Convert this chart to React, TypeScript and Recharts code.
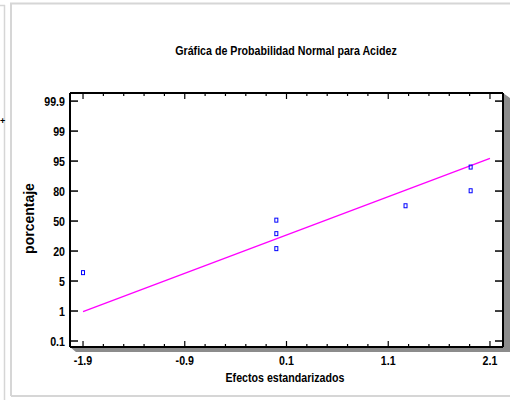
import { ScatterChart, Scatter, XAxis, YAxis } from 'recharts';

const xTicks = [
  -1.9, -1.7, -1.5, -1.3, -1.1, -0.9, -0.7, -0.5, -0.3, -0.1, 0.1, 0.3, 0.5,
  0.7, 0.9, 1.1, 1.3, 1.5, 1.7, 1.9, 2.1,
];
const xMajorLabels = ['-1.9', '-0.9', '0.1', '1.1', '2.1'];
const yTickLabels = ['0.1', '1', '5', '20', '50', '80', '95', '99', '99.9'];
const yTicks = yTickLabels.map((_, i) => i);

// standardized effects and their position on the probability scale (tick index units)
const effects = [-1.9, 0.0, 0.0, 0.0, 1.27, 1.91, 1.91];
const percentPositions = [2.28, 3.08, 3.58, 4.03, 4.51, 5.01, 5.8];

// fitted reference line
const fitX = [-1.9, 2.1];
const fitY = [0.98, 6.09];

const points = effects.map((x, i) => ({ x, y: percentPositions[i] }));
const fitLine = fitX.map((x, i) => ({ x, y: fitY[i] }));

const X_DOMAIN: [number, number] = [-2.028, 2.228];
const Y_DOMAIN: [number, number] = [-0.2, 8.27];

const SANS = '"Liberation Sans", Arial, sans-serif';

const isMajor = (v: number) =>
  xMajorLabels.some((l) => Math.abs(parseFloat(l) - v) < 1e-6);

// Arial Narrow look: squeeze the bold sans horizontally
const Narrow = ({ x, y, anchor = 'middle', children }: any) => (
  <text
    transform={`translate(${x} ${y}) scale(0.82 1)`}
    textAnchor={anchor}
    fontFamily={SANS}
    fontSize={13}
    fontWeight="bold"
    fill="#000"
  >
    {children}
  </text>
);

const BottomTick = (props: any) => {
  const { x, y, payload } = props;
  const major = isMajor(payload.value);
  return (
    <g>
      <line x1={x} y1={y} x2={x} y2={y - (major ? 6 : 3)} stroke="#000" strokeWidth={1.2} />
      {major && (
        <Narrow x={x} y={y + 18}>
          {payload.value.toFixed(1)}
        </Narrow>
      )}
    </g>
  );
};

const TopTick = (props: any) => {
  const { x, y, payload } = props;
  const major = isMajor(payload.value);
  return <line x1={x} y1={y} x2={x} y2={y + (major ? 6 : 3)} stroke="#000" strokeWidth={1.2} />;
};

const LeftTick = (props: any) => {
  const { x, y, payload } = props;
  return (
    <g>
      <line x1={x} y1={y} x2={x + 8} y2={y} stroke="#000" strokeWidth={1.5} />
      <Narrow x={x - 5} y={y + 4.6} anchor="end">
        {yTickLabels[payload.value]}
      </Narrow>
    </g>
  );
};

const RightTick = (props: any) => {
  const { x, y } = props;
  return <line x1={x} y1={y} x2={x - 8} y2={y} stroke="#000" strokeWidth={1.5} />;
};

const Square = (props: any) => {
  const { cx, cy } = props;
  return <rect x={cx - 1.5} y={cy - 2} width={3} height={4} fill="none" stroke="#0000ff" strokeWidth={1} />;
};

const frame = { stroke: '#000', strokeWidth: 2 };

export default function App() {
  return (
    <div style={{ position: 'fixed', left: 0, top: 0, width: 510, height: 400, background: '#fff', overflow: 'hidden' }}>
      <svg width={510} height={400} style={{ position: 'absolute', left: 0, top: 0 }}>
        <line x1={0} y1={5.5} x2={5} y2={5.5} stroke="#d6d6d6" strokeWidth={1.5} />
        <line x1={4.5} y1={5} x2={4.5} y2={400} stroke="#d6d6d6" strokeWidth={1.5} />
        <path d="M 11 396 L 11 3.5 L 512 3.5 M 11 396 L 512 396" fill="none" stroke="#d6d6d6" strokeWidth={2} />
        <text x={0} y={124} fontFamily={SANS} fontSize={9} fontWeight="bold" fill="#000">+</text>
        <polygon points="70,347 503,347 503,93 510,98 510,352 76,352" fill="#8c8c8c" />
        <Narrow x={286} y={55}>Gráfica de Probabilidad Normal para Acidez</Narrow>
        <Narrow x={285} y={381.5}>Efectos estandarizados</Narrow>
        <text
          x={34}
          y={218.5}
          transform="rotate(-90 34 218.5)"
          textAnchor="middle"
          fontFamily={SANS}
          fontSize={14}
          fontWeight="bold"
          fill="#000"
        >
          porcentaje
        </text>
      </svg>
      <div style={{ position: 'absolute', left: 0, top: 0 }}>
        <ScatterChart width={510} height={400} margin={{ top: 83, right: 0, bottom: 23, left: 30 }}>
          <rect x={70} y={93} width={433} height={254} fill="#fff" />
          <XAxis
            xAxisId="bottom"
            orientation="bottom"
            type="number"
            dataKey="x"
            domain={X_DOMAIN}
            allowDataOverflow
            ticks={xTicks}
            interval={0}
            height={30}
            tickSize={0}
            tickMargin={0}
            tickLine={false}
            axisLine={frame}
            tick={<BottomTick />}
          />
          <XAxis
            xAxisId="top"
            orientation="top"
            type="number"
            dataKey="x"
            domain={X_DOMAIN}
            allowDataOverflow
            ticks={xTicks}
            interval={0}
            height={10}
            tickSize={0}
            tickMargin={0}
            tickLine={false}
            axisLine={frame}
            tick={<TopTick />}
          />
          <YAxis
            yAxisId="left"
            orientation="left"
            type="number"
            dataKey="y"
            domain={Y_DOMAIN}
            allowDataOverflow
            ticks={yTicks}
            interval={0}
            width={40}
            tickSize={0}
            tickMargin={0}
            tickLine={false}
            axisLine={frame}
            tick={<LeftTick />}
          />
          <YAxis
            yAxisId="right"
            orientation="right"
            type="number"
            dataKey="y"
            domain={Y_DOMAIN}
            allowDataOverflow
            ticks={yTicks}
            interval={0}
            width={7}
            tickSize={0}
            tickMargin={0}
            tickLine={false}
            axisLine={frame}
            tick={<RightTick />}
          />
          <Scatter
            xAxisId="bottom"
            yAxisId="left"
            data={fitLine}
            line={{ stroke: '#ff00ff', strokeWidth: 1.3 }}
            shape={() => null}
            isAnimationActive={false}
          />
          <Scatter
            xAxisId="bottom"
            yAxisId="left"
            data={points}
            shape={<Square />}
            isAnimationActive={false}
          />
        </ScatterChart>
      </div>
    </div>
  );
}
